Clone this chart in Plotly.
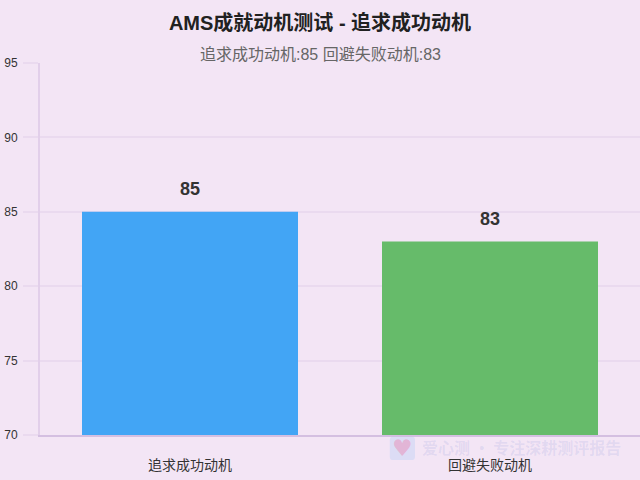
import plotly.graph_objects as go

categories = ['追求成功动机', '回避失败动机']
values = [85, 83]
bar_colors = ['#42A5F5', '#66BB6A']
y_ticks = [70, 75, 80, 85, 90, 95]

FONT = "'Liberation Sans', 'Noto Sans CJK SC', sans-serif"
BG = '#F3E5F5'
GRID = 'rgba(74,20,140,0.05)'
AXIS = 'rgba(74,20,140,0.10)'

fig = go.Figure()
fig.add_trace(go.Bar(
    x=categories,
    y=values,
    marker=dict(color=bar_colors, line=dict(width=0)),
    hoverinfo='skip',
    showlegend=False,
))

# value labels above the bars
for cat, val in zip(categories, values):
    fig.add_annotation(
        x=cat, y=val, text=f'<b>{val}</b>', showarrow=False,
        yanchor='bottom', yshift=11,
        font=dict(family=FONT, size=18, color='#333333'),
    )

# subtitle
fig.add_annotation(
    xref='paper', yref='paper', x=0.4667, y=1, yshift=9, text='追求成功动机:85 回避失败动机:83',
    showarrow=False, xanchor='center', yanchor='middle',
    font=dict(family=FONT, size=16, color='#666666'),
)

# watermark
fig.add_shape(
    type='path', xref='paper', yref='paper', layer='above',
    path='M 0.587 -0.005 L 0.621 -0.005 Q 0.625 -0.005 0.625 -0.015 '
         'L 0.625 -0.057 Q 0.625 -0.067 0.621 -0.067 L 0.587 -0.067 '
         'Q 0.583 -0.067 0.583 -0.057 L 0.583 -0.015 Q 0.583 -0.005 0.587 -0.005 Z',
    fillcolor='rgba(66,165,245,0.13)', line=dict(width=0),
)
fig.add_annotation(
    xref='paper', yref='paper', x=0.604, y=-0.036, text='♥', showarrow=False,
    xanchor='center', yanchor='middle',
    font=dict(family='DejaVu Sans', size=23, color='rgba(240,98,146,0.33)'),
)
fig.add_annotation(
    xref='paper', yref='paper', x=0.633, y=-0.032, xanchor='left', yanchor='middle',
    text='<b>爱心测 · 专注深耕测评报告</b>', showarrow=False,
    font=dict(family="'Noto Sans CJK SC', sans-serif", size=16, color='rgba(66,100,200,0.10)'),
)

fig.update_layout(
    width=640,
    height=480,
    autosize=False,
    paper_bgcolor=BG,
    plot_bgcolor=BG,
    margin=dict(l=40, r=0, t=63, b=45),
    bargap=0.28,
    title=dict(
        text='<b>AMS成就动机测试 - 追求成功动机</b>',
        x=0.5, xanchor='center', y=0.953, yanchor='middle',
        font=dict(family=FONT, size=20, color='#212121'),
    ),
    xaxis=dict(
        showgrid=False,
        showline=True,
        linecolor='rgba(74,20,140,0.18)',
        linewidth=2,
        ticks='',
        ticklabelstandoff=16,
        tickfont=dict(family=FONT, size=14, color='#333333'),
    ),
    yaxis=dict(
        range=[70, 95],
        tickvals=y_ticks,
        showgrid=True,
        gridcolor=GRID,
        gridwidth=2,
        zeroline=False,
        showline=True,
        linecolor=AXIS,
        linewidth=2,
        ticks='outside',
        ticklen=15,
        tickwidth=2,
        tickcolor=GRID,
        ticklabelstandoff=3,
        tickfont=dict(family=FONT, size=12, color='#333333'),
    ),
)

# page margin would shift the chart off the 640x480 frame
fig.write_html('out.html', config={'displayModeBar': False},
               post_script="document.body.style.margin='0';")
